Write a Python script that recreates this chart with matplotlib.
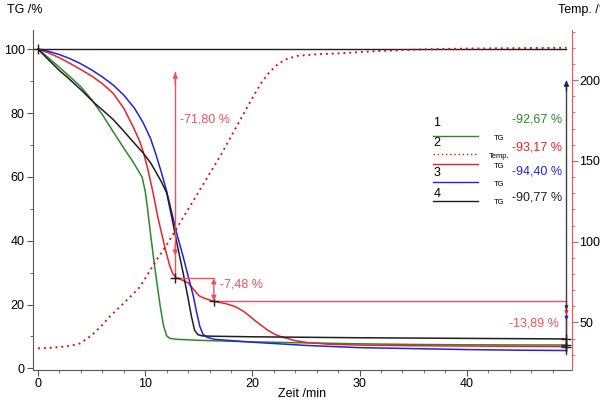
import matplotlib
matplotlib.use("Agg")
import matplotlib.pyplot as plt
from matplotlib.lines import Line2D
from matplotlib.ticker import MultipleLocator

plt.rcParams["font.family"] = ["Liberation Sans", "DejaVu Sans"]

# curve 1 (green)
t1 = [0, 1, 2, 3, 4, 5, 6, 7, 8, 8.9, 9.7, 10.0, 10.2, 10.5, 10.8, 11.1, 11.4, 11.7, 12.0, 12.3, 13, 15, 20, 25, 30, 35, 40, 45, 49.3]
tg1 = [100, 97.2, 94.3, 91.3, 88.2, 84.2, 79.5, 74.2, 69.0, 64.5, 60.0, 55.5, 50.5, 42, 34, 26.5, 19.5, 13.5, 10.2, 9.4, 9.1, 8.8, 8.3, 8.0, 7.7, 7.5, 7.4, 7.35, 7.33]

# curve 2 (red TG)
t2 = [0, 1, 2, 3, 4, 5, 6, 7, 8, 8.9, 9.5, 9.8, 10.2, 10.7, 11.2, 11.9, 12.3, 12.6, 12.9, 13.5, 14, 15, 15.5, 16.4, 17.5, 18.2, 18.6, 19.2, 19.7, 20.2, 20.7, 21.5, 22.2, 22.9, 24, 25.1, 27, 30, 35, 40, 45, 49.3]
tg2 = [100, 98.8, 97.3, 95.5, 93.6, 91.6, 89.2, 86.2, 81.5, 75.5, 71, 68, 63, 55.5, 47, 37, 32, 29.5, 28.4, 27.6, 26.8, 22.8, 22.0, 21.0, 20.3, 19.6, 19.0, 17.8, 16.5, 15.1, 13.8, 11.8, 10.5, 9.7, 8.7, 8.1, 7.6, 7.3, 7.1, 7.0, 6.9, 6.83]

# curve 2 temperature
tt = [0, 1, 2, 3, 3.9, 5, 6, 6.7, 8, 9, 9.5, 10.9, 12, 13, 14, 15, 16, 17, 18, 19, 20, 20.8, 21.6, 22.4, 23.2, 24.2, 26, 28, 31.7, 36, 40, 49.3]
temp = [34, 34.2, 34.8, 35.5, 37, 42, 48.5, 53.7, 62, 68.5, 72, 87, 98, 109, 120, 131, 142, 153, 165, 177, 189, 198, 205, 210, 213, 215, 216, 216.5, 218, 219, 219.5, 220]

# curve 3 (blue)
t3 = [0, 1, 2, 3, 4, 5, 6, 7, 8, 9, 9.8, 10.5, 11, 11.5, 12, 12.5, 13, 13.5, 14, 14.5, 14.8, 15.1, 15.4, 15.8, 16.5, 20, 25, 30, 35, 40, 45, 49.3]
tg3 = [100, 99.3, 98.3, 97, 95.4, 93.5, 91.3, 88.8, 85.6, 81.5, 77, 72, 67, 61.5, 55.5, 48.5, 41.5, 35.5, 29, 22.5, 17.5, 13.1, 10.6, 9.7, 9.1, 8.2, 7.2, 6.5, 6.2, 5.9, 5.7, 5.6]

# curve 4 (black)
t4 = [0, 1, 2, 2.7, 4, 5.3, 6, 7, 7.9, 9, 9.8, 10.5, 11, 11.5, 12, 12.5, 13, 13.5, 14, 14.3, 14.6, 14.9, 15.3, 16, 20, 30, 40, 49.3]
tg4 = [100, 96.6, 93.3, 91.3, 87.3, 83, 81, 78, 74.7, 70.5, 67.5, 64.4, 61.5, 58.5, 55, 47, 38.5, 30.5, 22, 16.5, 12, 10.6, 10.2, 10.1, 9.9, 9.6, 9.4, 9.23]

labels = ["1", "2", "3", "4"]
totals = ["-92,67 %", "-93,17 %", "-94,40 %", "-90,77 %"]
steps = ["-71,80 %", "-7,48 %", "-13,89 %"]

green = "#2a8a2a"
red = "#e8232b"
ared = "#f0505a"
blue = "#2222dd"
black = "#1e1e1e"

fig = plt.figure(figsize=(6, 4), dpi=100)
ax = fig.add_axes([0.055, 0.075, 0.898, 0.85])
ax.set_xlim(-0.47, 49.8)
ax.set_ylim(-0.5, 106)

ax.plot(t1, tg1, color=green, lw=1.1)
ax.plot(t2, tg2, color=red, lw=1.1)
ax.plot(t3, tg3, color=blue, lw=1.1)
ax.plot(t4, tg4, color=black, lw=1.1)
ax.plot([0, 49.3], [100, 100], color=black, lw=1)

# step annotations
ax.plot([12.8, 12.8], [28.4, 92.8], color=ared, lw=1)
ax.annotate("", xy=(12.8, 93.5), xytext=(12.8, 88),
            arrowprops=dict(arrowstyle="-|>", color=ared, lw=1, mutation_scale=7))
ax.annotate("", xy=(12.8, 34.5), xytext=(12.8, 40),
            arrowprops=dict(arrowstyle="-|>", color=ared, lw=1, mutation_scale=7))
ax.text(13.25, 78.1, steps[0], color=ared, fontsize=9, va="center")
ax.plot([12.8, 16.4], [28.4, 28.4], color=ared, lw=1)
ax.annotate("", xy=(16.4, 21.2), xytext=(16.4, 28.2),
            arrowprops=dict(arrowstyle="<|-|>", color=ared, lw=1, mutation_scale=7, shrinkA=0, shrinkB=0))
ax.text(17.0, 26.3, steps[1], color=ared, fontsize=9, va="center")
ax.plot([16.4, 49.3], [21.0, 21.0], color=ared, lw=1)
ax.plot([49.3, 49.3], [21.0, 7.0], color=ared, lw=1)
ax.text(48.6, 14.1, steps[2], color=ared, fontsize=9, va="center", ha="right")

# total loss arrow
ax.plot([49.3, 49.3], [4.5, 90], color="#404040", lw=1)
ax.annotate("", xy=(49.3, 91), xytext=(49.3, 86),
            arrowprops=dict(arrowstyle="-|>", color="#202060", lw=1, mutation_scale=7))
for y0, c in [(17.5, "#303050"), (16.0, red), (14.2, blue)]:
    ax.annotate("", xy=(49.3, y0), xytext=(49.3, y0 + 2),
                arrowprops=dict(arrowstyle="-|>", color=c, lw=0.8, mutation_scale=5))

ax.plot([0, 12.8, 16.4, 49.3, 49.3, 49.3], [100, 28.4, 21.0, 9.23, 7.33, 6.83],
        "+", color=black, ms=7, mew=1)

ax.spines["top"].set_visible(False)
ax.spines["right"].set_visible(False)
for s in ["left", "bottom"]:
    ax.spines[s].set_color("#555555")
ax.xaxis.set_major_locator(MultipleLocator(10))
ax.xaxis.set_minor_locator(MultipleLocator(2))
ax.yaxis.set_major_locator(MultipleLocator(20))
ax.yaxis.set_minor_locator(MultipleLocator(10))
ax.tick_params(which="major", length=4, labelsize=9, color="#555555")
ax.tick_params(which="minor", length=2, color="#555555")
ax.tick_params(axis="x", pad=1.5)
ax.tick_params(axis="y", pad=2)
ax.set_xlabel("Zeit /min", fontsize=9, labelpad=-1.5)

ax2 = ax.twinx()
ax2.set_ylim(20.6, 231)
ax2.plot(tt, temp, color="#d01818", lw=1.4, linestyle=(0, (1, 2)))
for s in ["left", "top", "bottom"]:
    ax2.spines[s].set_visible(False)
ax2.spines["right"].set_color(ared)
ax2.yaxis.set_major_locator(MultipleLocator(50))
ax2.yaxis.set_minor_locator(MultipleLocator(10))
ax2.tick_params(which="major", length=4, labelsize=9, color=ared, pad=1.5)
ax2.tick_params(which="minor", length=2, color=ared)

fig.text(0.012, 0.975, "TG /%", fontsize=9, va="center")
fig.text(0.93, 0.975, "Temp. /°C", fontsize=9, va="center")

# legend block
leg_rows = [0.693, 0.643, 0.568, 0.515]
for lab, ynum in zip(labels, leg_rows):
    fig.text(0.722, ynum, lab, fontsize=9, va="center")
legend_lines = [
    (0.66, green, "-", "TG"),
    (0.615, "#d01818", (0, (1, 2)), "Temp."),
    (0.59, red, "-", "TG"),
    (0.545, blue, "-", "TG"),
    (0.498, black, "-", "TG"),
]
for y0, c, ls, name in legend_lines:
    fig.add_artist(Line2D([0.722, 0.797], [y0, y0], color=c, lw=1, linestyle=ls))
    fig.text(0.832, y0 - 0.005, name, fontsize=5.5, ha="center", va="center")
for txt, c, y0 in zip(totals, [green, red, blue, black], [0.702, 0.632, 0.572, 0.507]):
    fig.text(0.937, y0, txt, color=c, fontsize=9, ha="right", va="center")

fig.savefig("out.png", dpi=100)
